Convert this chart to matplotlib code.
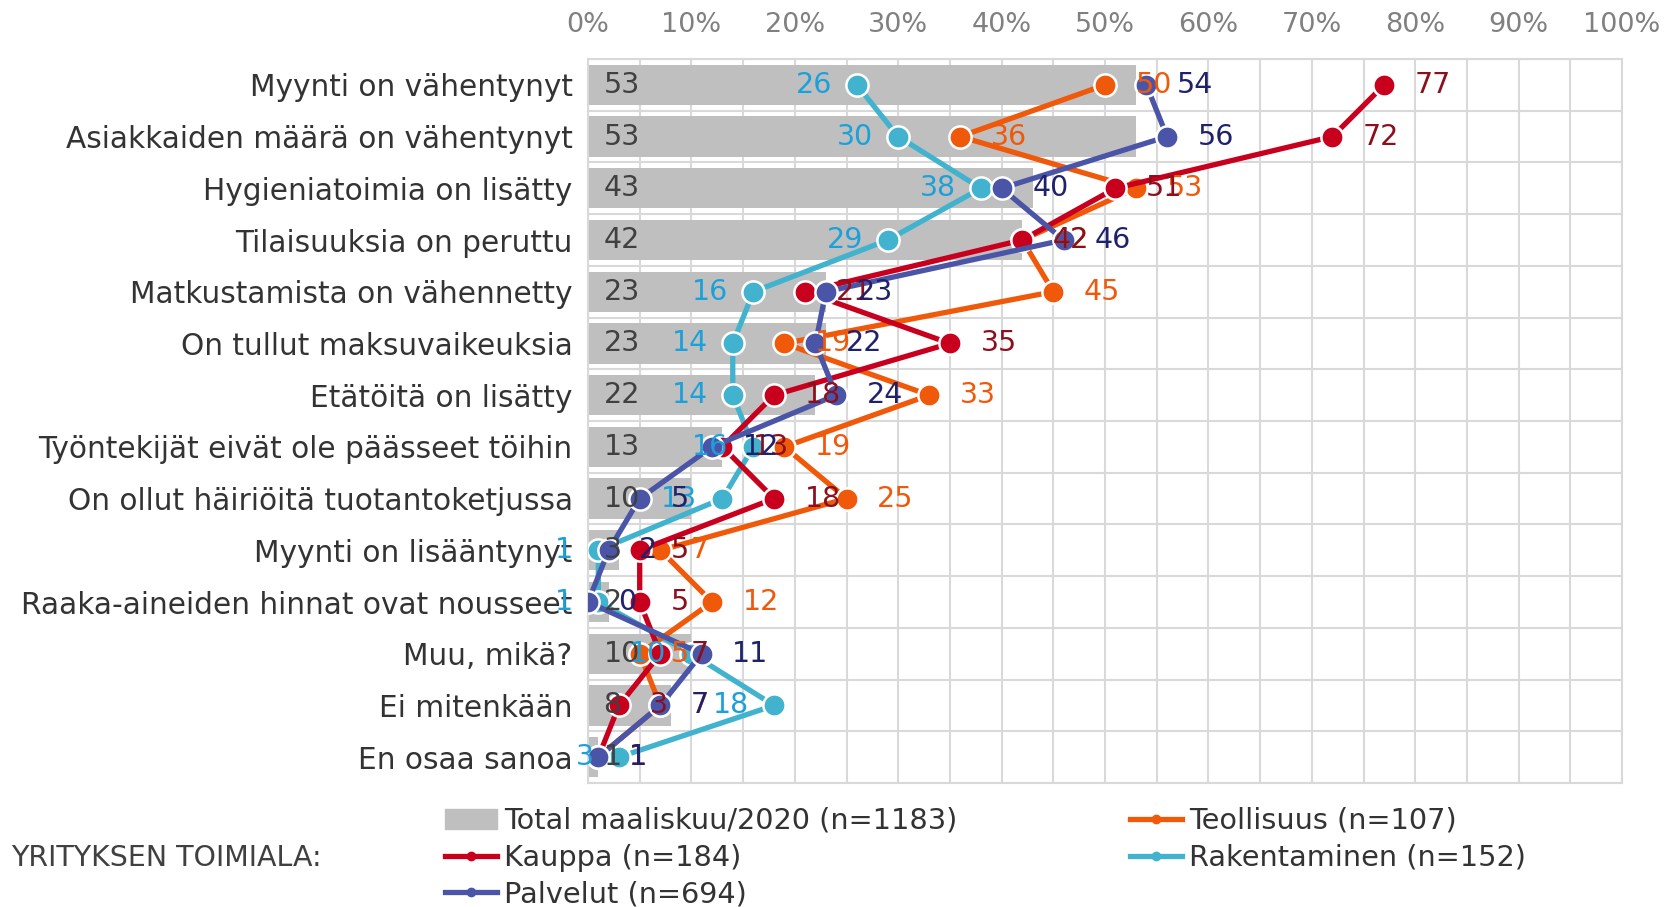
import numpy as np
import matplotlib
matplotlib.use('Agg')
import matplotlib.pyplot as plt
from matplotlib.lines import Line2D
from matplotlib.patches import Patch

categories = ['Myynti on vähentynyt', 'Asiakkaiden määrä on vähentynyt',
              'Hygieniatoimia on lisätty', 'Tilaisuuksia on peruttu',
              'Matkustamista on vähennetty', 'On tullut maksuvaikeuksia',
              'Etätöitä on lisätty', 'Työntekijät eivät ole päässeet töihin',
              'On ollut häiriöitä tuotantoketjussa', 'Myynti on lisääntynyt',
              'Raaka-aineiden hinnat ovat nousseet', 'Muu, mikä?',
              'Ei mitenkään', 'En osaa sanoa']
total = [53, 53, 43, 42, 23, 23, 22, 13, 10, 3, 2, 10, 8, 1]
kauppa = [77, 72, 51, 42, 21, 35, 18, 13, 18, 5, 5, 7, 3, 1]
palvelut = [54, 56, 40, 46, 23, 22, 24, 12, 5, 2, 0, 11, 7, 1]
teollisuus = [50, 36, 53, 42, 45, 19, 33, 19, 25, 7, 12, 5, 7, 1]
rakentaminen = [26, 30, 38, 29, 16, 14, 14, 16, 13, 1, 1, 10, 18, 3]

FS = 20.5
grid_c = '#D9D9D9'

fig = plt.figure(figsize=(16.68, 9.07), dpi=100)
ax = fig.add_axes([588 / 1668, 124 / 907, 1034 / 1668, 724 / 907])

y = np.arange(len(categories))
ax.barh(y, total, height=0.78, color='#BFBFBF', zorder=1)
for yi, v in zip(y, total):
    ax.text(1.5, yi, str(v), ha='left', va='center', fontsize=FS, color='#404040', zorder=10)

# series: values, line colour, label colour, label side, zorder
series = [
    (rakentaminen, '#41B3CE', '#1BA1DA', 'left', 3),
    (teollisuus, '#F0580A', '#F0580A', 'right', 4),
    (kauppa, '#C8001E', '#8C0F1E', 'right', 5),
    (palvelut, '#4A55A8', '#1F216B', 'right', 6),
]
for vals, lc, tc, side, z in series:
    ax.plot(vals, y, color=lc, lw=3.8, marker='o', ms=16, mfc=lc,
            mec='white', mew=1.8, zorder=z)
    for yi, v in zip(y, vals):
        if side == 'right':
            ax.annotate(str(v), (v, yi), xytext=(22, 0), textcoords='offset points',
                        ha='left', va='center', fontsize=FS, color=tc, zorder=10)
        else:
            ax.annotate(str(v), (v, yi), xytext=(-18, 0), textcoords='offset points',
                        ha='right', va='center', fontsize=FS, color=tc, zorder=10)

ax.set_xlim(0, 100)
ax.set_ylim(len(categories) - 0.5, -0.5)
ax.set_xticks(np.arange(0, 101, 10))
ax.set_xticklabels([f'{t}%' for t in range(0, 101, 10)])
ax.set_xticks(np.arange(0, 101, 5), minor=True)
ax.set_yticks(y)
ax.set_yticklabels(categories)
ax.set_yticks(np.arange(-0.5, len(categories), 1), minor=True)
ax.xaxis.tick_top()
ax.tick_params(axis='x', which='both', length=0, labelsize=19.5, labelcolor='#808080', pad=15)
ax.tick_params(axis='y', which='both', length=0, labelsize=21.3, labelcolor='#333333', pad=11)
ax.grid(which='minor', color=grid_c, lw=1.5, zorder=0)
ax.grid(which='major', axis='x', color=grid_c, lw=1.5, zorder=0)
ax.set_axisbelow(True)
for s in ax.spines.values():
    s.set_color(grid_c)
    s.set_linewidth(1.5)

h1 = [Patch(color='#BFBFBF'),
      Line2D([], [], color='#C8001E', lw=3.8, marker='o', ms=6),
      Line2D([], [], color='#4A55A8', lw=3.8, marker='o', ms=6)]
l1 = ['Total maaliskuu/2020 (n=1183)', 'Kauppa (n=184)', 'Palvelut (n=694)']
h2 = [Line2D([], [], color='#F0580A', lw=3.8, marker='o', ms=6),
      Line2D([], [], color='#41B3CE', lw=3.8, marker='o', ms=6)]
l2 = ['Teollisuus (n=107)', 'Rakentaminen (n=152)']
for hs, ls, x0 in [(h1, l1, 445), (h2, l2, 1130)]:
    fig.legend(hs, ls, loc='upper left', bbox_to_anchor=(x0 / 1668, 1 - 807 / 907),
               frameon=False, fontsize=20.7, handlelength=1.8, handletextpad=0.25,
               labelspacing=0.3, borderpad=0, borderaxespad=0, labelcolor='#333333')

fig.text(11 / 1668, 1 - 858 / 907, 'YRITYKSEN TOIMIALA:', ha='left', va='center',
         fontsize=20.5, color='#404040')

fig.savefig('out.png', dpi=100)
